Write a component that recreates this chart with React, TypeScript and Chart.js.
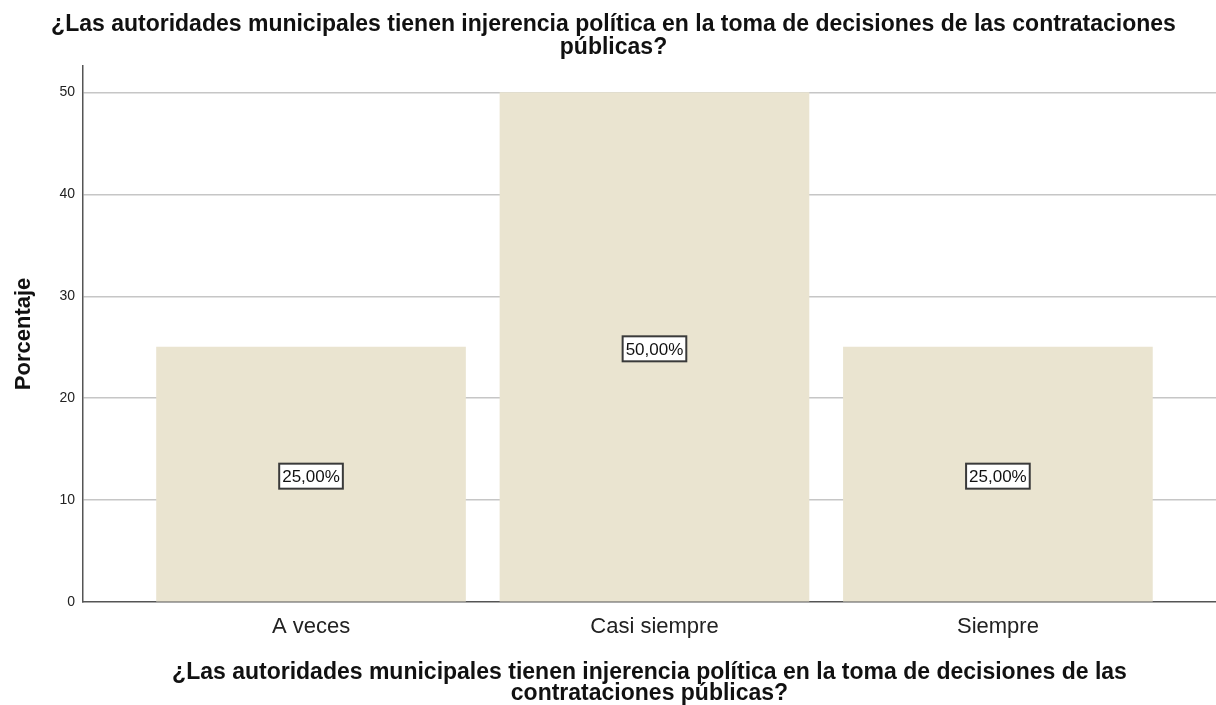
import React, { useEffect, useRef } from "react";
import { Chart, registerables } from "chart.js";

Chart.register(...registerables);

const categories = ["A veces", "Casi siempre", "Siempre"];
const percentages = [25, 50, 25];
const yTicks = [0, 10, 20, 30, 40, 50];
const titleLines = [
  "¿Las autoridades municipales tienen injerencia política en la toma de decisiones de las contrataciones",
  "públicas?",
];
const xTitleLines = [
  "¿Las autoridades municipales tienen injerencia política en la toma de decisiones de las",
  "contrataciones públicas?",
];
const yTitle = "Porcentaje";

const FONT = "'Liberation Sans', Arial, sans-serif";

const labelPlugin = {
  id: "boxLabels",
  afterDatasetsDraw(chart: any) {
    const ctx = chart.ctx;
    const meta = chart.getDatasetMeta(0);
    ctx.save();
    ctx.font = `17px ${FONT}`;
    ctx.textAlign = "center";
    ctx.textBaseline = "middle";
    meta.data.forEach((el: any, i: number) => {
      const v = percentages[i];
      const text = v.toFixed(2).replace(".", ",") + "%";
      const cx = el.x;
      const cy = (el.y + el.base) / 2 + 2;
      const w = ctx.measureText(text).width + 6;
      const h = 25;
      ctx.fillStyle = "#ffffff";
      ctx.fillRect(cx - w / 2, cy - h / 2, w, h);
      ctx.strokeStyle = "#3a3a3a";
      ctx.lineWidth = 2;
      ctx.strokeRect(cx - w / 2, cy - h / 2, w, h);
      ctx.fillStyle = "#111111";
      ctx.fillText(text, cx, cy + 1);
    });
    ctx.restore();
  },
};

export default function App() {
  const ref = useRef<HTMLCanvasElement | null>(null);
  useEffect(() => {
    document.body.style.margin = "0";
    const chart = new Chart(ref.current as HTMLCanvasElement, {
      type: "bar",
      data: {
        datasets: [
          {
            data: percentages.map((v, i) => ({ x: i, y: v })),
            backgroundColor: "#eae4d0",
            borderWidth: 0,
            barThickness: 309,
          },
        ],
      },
      options: {
        animation: false,
        responsive: false,
        layout: { padding: { top: 4, right: 0, left: 11, bottom: 0 } },
        plugins: {
          legend: { display: false },
          tooltip: { enabled: false },
          title: {
            display: true,
            text: titleLines,
            color: "#111",
            font: { family: FONT, size: 23, weight: "bold", lineHeight: 1.0 },
            padding: { top: 9, bottom: 7 },
          },
        },
        scales: {
          x: {
            type: "linear",
            offset: false,
            min: -0.664,
            max: 2.635,
            grid: { display: false, drawTicks: false },
            border: { color: "#555", width: 1.5 },
            afterBuildTicks: (scale: any) => {
              scale.ticks = categories.map((_, i) => ({ value: i }));
            },
            ticks: {
              autoSkip: false,
              maxRotation: 0,
              padding: 12,
              color: "#222",
              font: { family: FONT, size: 22 },
              callback: (v: any) => categories[Math.round(Number(v))] ?? "",
            },
            title: {
              display: true,
              text: xTitleLines,
              color: "#111",
              font: { family: FONT, size: 23, weight: "bold", lineHeight: 0.95 },
              padding: { top: 9, bottom: 0 },
            },
          },
          y: {
            min: 0,
            max: 52.6,
            afterBuildTicks: (scale: any) => {
              scale.ticks = yTicks.map((v) => ({ value: v }));
            },
            grid: {
              color: (c: any) => (c.tick && c.tick.value === 0 ? "rgba(0,0,0,0)" : "#c6c6c6"),
              lineWidth: 1.5,
              drawTicks: false,
            },
            border: { color: "#555", width: 1.5 },
            ticks: {
              padding: 8,
              color: "#222",
              font: { family: FONT, size: 14 },
            },
            title: {
              display: true,
              text: yTitle,
              color: "#111",
              font: { family: FONT, size: 22, weight: "bold" },
              padding: { top: 0, bottom: 14 },
            },
          },
        },
      },
      plugins: [labelPlugin],
    } as any);
    return () => chart.destroy();
  }, []);
  return (
    <canvas
      ref={ref}
      width={1216}
      height={705}
      style={{ position: "fixed", left: 0, top: 0, width: 1216, height: 705, background: "#fff" }}
    />
  );
}
